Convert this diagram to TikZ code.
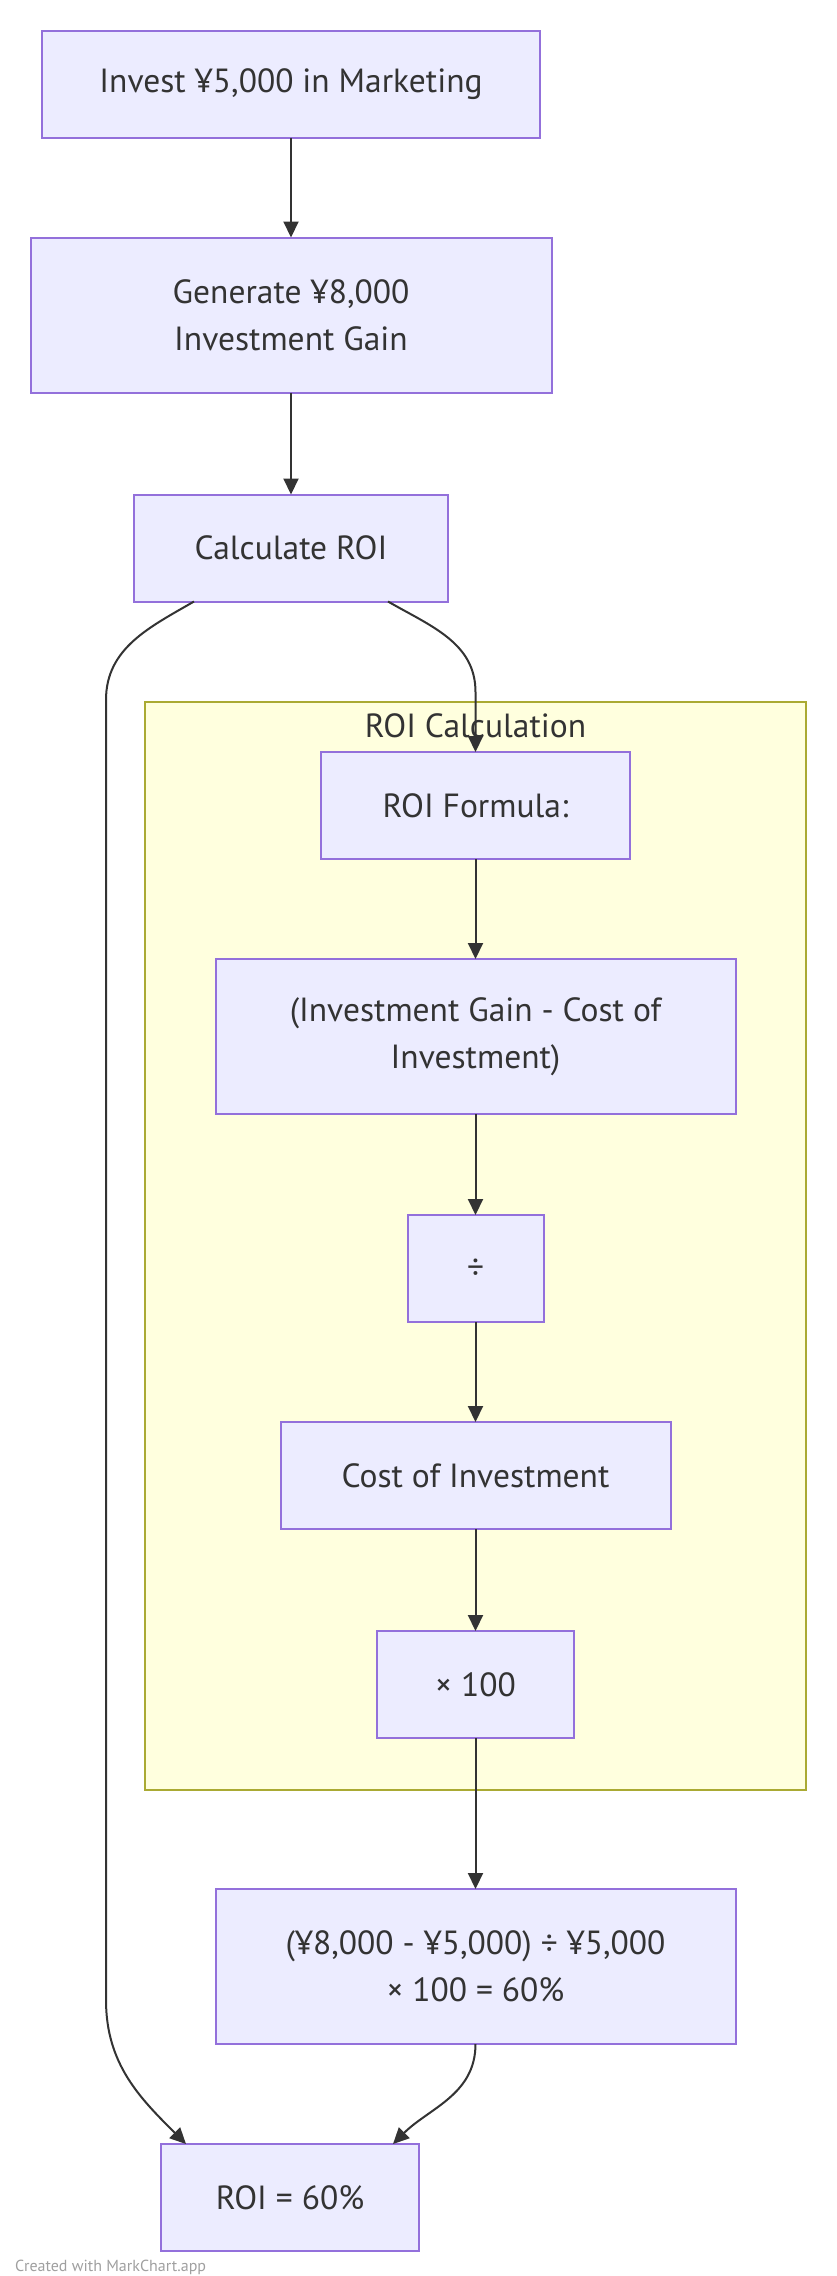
\documentclass[tikz,border=0pt]{standalone}
\usepackage{fontspec}
\setmainfont{PT Sans}
\usetikzlibrary{positioning,arrows.meta}
\definecolor{boxfill}{HTML}{ECECFF}
\definecolor{boxline}{HTML}{9370DB}
\definecolor{groupfill}{HTML}{FFFFDE}
\definecolor{groupline}{HTML}{AAAA33}
\definecolor{inkgray}{HTML}{333333}
\definecolor{notegray}{HTML}{A0A0A0}

\begin{document}
\begin{tikzpicture}
[x=1pt,y=-1pt,
stepbox/.style={rectangle,draw=boxline,fill=boxfill,line width=2pt,
text=inkgray,align=center,inner sep=0pt,outer sep=0pt,
minimum height=107pt,font=\fontsize{33.5}{47}\selectfont},
tallbox/.style={stepbox,minimum height=155pt},
groupbox/.style={rectangle,draw=groupline,fill=groupfill,line width=2pt,
inner sep=0pt,outer sep=0pt},
flow/.style={draw=inkgray,line width=2pt,
-{Triangle[length=16pt,width=15pt]}}]
\useasboundingbox[fill=white] (0,0) rectangle (837,2276);
% subgraph
\node[groupbox,minimum width=661pt,minimum height=1088pt] (roicalc) at (475.5,1246) {};
\node[text=inkgray,font=\fontsize{33.5}{38}\selectfont,inner sep=0pt]
(roicalctitle) at ([yshift=-24pt]roicalc.north) {ROI Calculation};
% main column
\node[stepbox,minimum width=498pt] (invest) at (291,84) {Invest ¥5,000 in Marketing};
\node[tallbox,minimum width=521pt,below=100pt of invest] (gain) {Generate ¥8,000\\Investment Gain};
\node[stepbox,minimum width=314pt,below=102pt of gain] (calc) {Calculate ROI};
% formula column
\node[stepbox,minimum width=309pt] (formula) at (475.5,805.5) {ROI Formula:};
\node[tallbox,minimum width=520pt,below=100pt of formula] (diff) {(Investment Gain - Cost of\\Investment)};
\node[stepbox,minimum width=136pt,below=101pt of diff] (divide) {÷};
\node[stepbox,minimum width=390pt,below=100pt of divide] (cost) {Cost of Investment};
\node[stepbox,minimum width=197pt,below=102pt of cost] (times) {× 100};
\node[tallbox,minimum width=520pt,below=151pt of times] (result) {(¥8,000 - ¥5,000) ÷ ¥5,000\\× 100 = 60\%};
\node[stepbox,minimum width=258pt] (roi) at (290,2197.5) {ROI = 60\%};
\node[text=notegray,font=\fontsize{16}{19}\selectfont,anchor=west,inner sep=0pt]
(credit) at (15,2267) {Created with MarkChart.app};
% bends
\coordinate (leftbend) at (106,700);
\coordinate (leftfoot) at (106,2000);
\coordinate (rightbend) at ([yshift=60pt]formula.north);
% connectors
\draw[flow] (invest) -- (gain);
\draw[flow] (gain) -- (calc);
\draw[flow] ([xshift=97pt]calc.south) to[out=-30,in=90] (rightbend) -- (formula);
\draw[flow] ([xshift=-97pt]calc.south) to[out=-150,in=90] (leftbend)
-- (leftfoot) to[out=-90,in=135] ([xshift=-104pt]roi.north);
\draw[flow] (formula) -- (diff);
\draw[flow] (diff) -- (divide);
\draw[flow] (divide) -- (cost);
\draw[flow] (cost) -- (times);
\draw[flow] (times) -- (result);
\draw[flow] (result.south) to[out=-90,in=45] ([xshift=103pt]roi.north);
\end{tikzpicture}
\end{document}
